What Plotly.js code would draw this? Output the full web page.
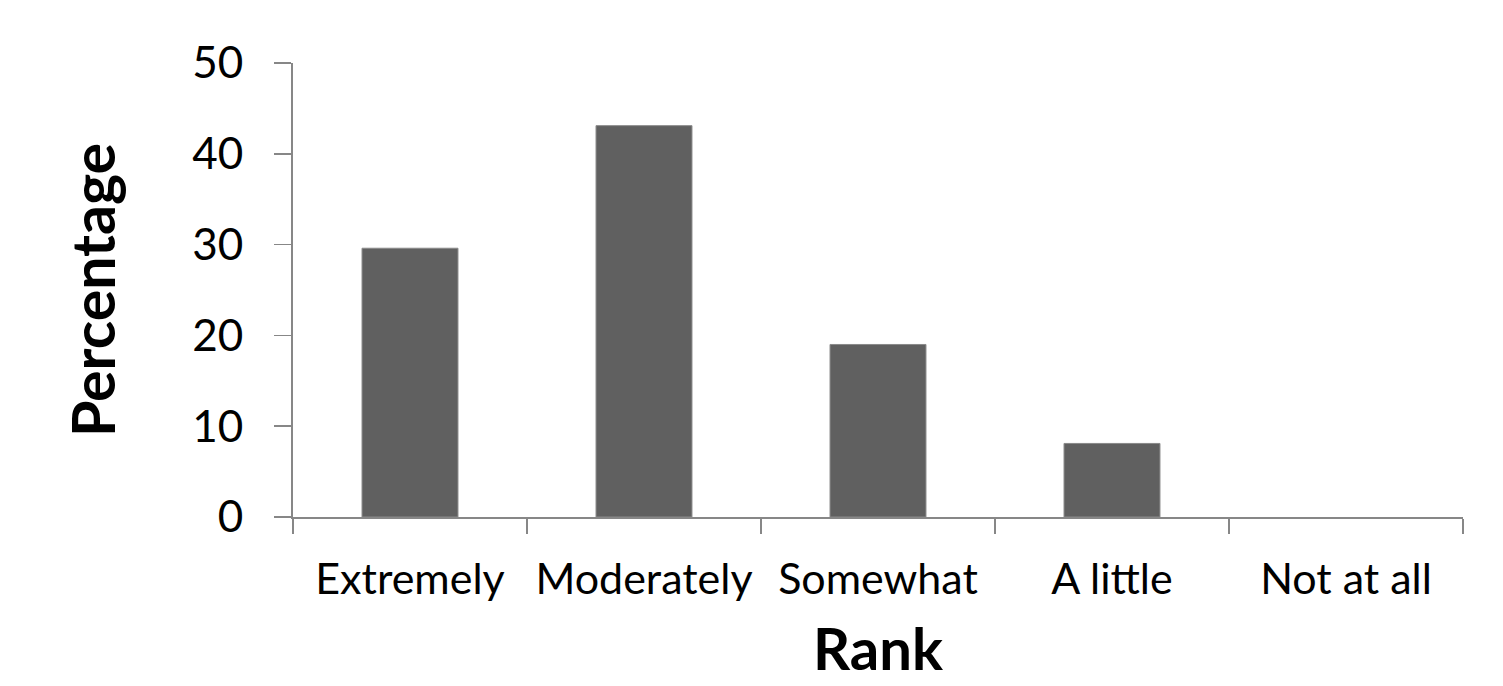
<!DOCTYPE html>
<html>
<head>
<meta charset="utf-8">
<script src="https://cdn.plot.ly/plotly-3.0.1.min.js"></script>
<style>
  html, body { margin: 0; padding: 0; background: #fff; }
  #chart { width: 1503px; height: 686px; }
</style>
</head>
<body>
<div id="chart"></div>
<script>
// Response categories and the share of respondents (%) for each
const categories = ["Extremely", "Moderately", "Somewhat", "A little", "Not at all"];
const percentages = [29.6, 43.1, 19.0, 8.1, 0];
const yTicks = [0, 10, 20, 30, 40, 50];

const fontFamily = "Lato, 'Open Sans', sans-serif";
const axisGray = "#878787";

const trace = {
  type: "bar",
  x: categories,
  y: percentages,
  marker: {
    color: "#606060",
    // no outline on empty bars so nothing is drawn for a zero share
    line: { color: "#8a8a8a", width: percentages.map(v => (v > 0 ? 1 : 0)) }
  },
  hoverinfo: "x+y"
};

const layout = {
  width: 1503,
  height: 686,
  margin: { l: 293, r: 40, t: 63, b: 169 },
  paper_bgcolor: "#ffffff",
  plot_bgcolor: "#ffffff",
  bargap: 0.59,
  showlegend: false,
  font: { family: fontFamily, color: "#000000" },
  xaxis: {
    type: "category",
    tickson: "boundaries",
    ticks: "outside",
    ticklen: 15,
    tickwidth: 1.5,
    tickcolor: axisGray,
    showline: true,
    linecolor: axisGray,
    linewidth: 2,
    showgrid: false,
    zeroline: false,
    tickfont: { size: 43, family: fontFamily, color: "#000" },
    ticklabelstandoff: 23,
    title: { text: "<b>Rank</b>", font: { size: 58, family: fontFamily, color: "#000" }, standoff: 28 }
  },
  yaxis: {
    range: [0, 50],
    tickvals: yTicks,
    ticktext: yTicks.map(String),
    ticks: "outside",
    ticklen: 17,
    tickwidth: 1.5,
    tickcolor: axisGray,
    showline: true,
    linecolor: axisGray,
    linewidth: 2,
    showgrid: false,
    zeroline: false,
    tickfont: { size: 44, family: fontFamily, color: "#000" },
    ticklabelstandoff: 22,
    title: { text: "<b>Percentage</b>", font: { size: 59, family: fontFamily, color: "#000" }, standoff: 58 }
  }
};

Plotly.newPlot("chart", [trace], layout, { displayModeBar: false, staticPlot: true });
</script>
</body>
</html>
